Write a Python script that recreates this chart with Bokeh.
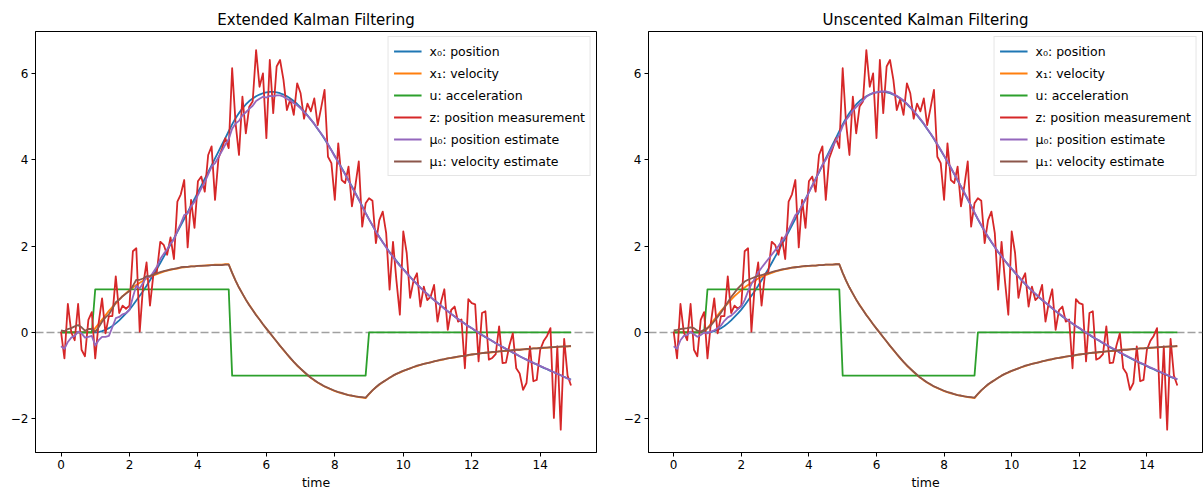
from bokeh.plotting import figure
from bokeh.layouts import row
from bokeh.models import Span, Legend, LegendItem, Range1d
from bokeh.embed import file_html
from bokeh.resources import INLINE

FONT = "DejaVu Sans"

# time axis: 0.0 .. 14.9 in steps of 0.1
time = [round(i * 0.1, 1) for i in range(150)]

# acceleration (control input)
u_acc = [0] * 10 + [1] * 40 + [-1] * 40 + [0] * 60

# true position
x0_pos = [
    0, 0, 0, 0, 0, 0, 0, 0, 0, 0,
    0, 0.01, 0.03, 0.06, 0.10, 0.15, 0.21, 0.28, 0.36, 0.44,
    0.53, 0.63, 0.74, 0.85, 0.96, 1.08, 1.21, 1.34, 1.47, 1.61,
    1.75, 1.89, 2.04, 2.18, 2.33, 2.48, 2.63, 2.78, 2.94, 3.09,
    3.25, 3.40, 3.56, 3.71, 3.87, 4.03, 4.19, 4.35, 4.50, 4.66,
    4.82, 4.96, 5.08, 5.19, 5.28, 5.36, 5.42, 5.47, 5.51, 5.54,
    5.56, 5.57, 5.57, 5.56, 5.54, 5.51, 5.47, 5.42, 5.36, 5.29,
    5.21, 5.12, 5.03, 4.93, 4.83, 4.71, 4.60, 4.48, 4.35, 4.22,
    4.09, 3.95, 3.81, 3.67, 3.52, 3.38, 3.23, 3.08, 2.93, 2.77,
    2.62, 2.48, 2.34, 2.21, 2.09, 1.98, 1.86, 1.76, 1.66, 1.56,
    1.47, 1.38, 1.29, 1.20, 1.12, 1.04, 0.97, 0.89, 0.82, 0.75,
    0.69, 0.62, 0.56, 0.49, 0.43, 0.37, 0.31, 0.26, 0.20, 0.15,
    0.10, 0.04, -0.01, -0.06, -0.11, -0.15, -0.20, -0.25, -0.29, -0.34,
    -0.38, -0.42, -0.47, -0.51, -0.55, -0.59, -0.63, -0.67, -0.71, -0.74,
    -0.78, -0.82, -0.85, -0.89, -0.92, -0.96, -0.99, -1.03, -1.06, -1.09,
]

# true velocity
x1_vel = [
    0, 0, 0, 0, 0, 0, 0, 0, 0, 0,
    0.10, 0.20, 0.30, 0.40, 0.50, 0.59, 0.67, 0.76, 0.84, 0.91,
    0.98, 1.04, 1.10, 1.15, 1.20, 1.25, 1.29, 1.32, 1.35, 1.38,
    1.41, 1.43, 1.45, 1.47, 1.48, 1.50, 1.51, 1.52, 1.53, 1.53,
    1.54, 1.55, 1.55, 1.56, 1.56, 1.57, 1.57, 1.57, 1.58, 1.58,
    1.38, 1.20, 1.04, 0.90, 0.76, 0.64, 0.52, 0.41, 0.30, 0.19,
    0.09, -0.01, -0.11, -0.21, -0.31, -0.41, -0.50, -0.60, -0.68, -0.77,
    -0.84, -0.92, -0.99, -1.05, -1.11, -1.16, -1.21, -1.25, -1.29, -1.32,
    -1.36, -1.38, -1.41, -1.43, -1.45, -1.47, -1.48, -1.50, -1.51, -1.52,
    -1.43, -1.34, -1.27, -1.21, -1.15, -1.10, -1.05, -1.00, -0.96, -0.93,
    -0.89, -0.86, -0.83, -0.80, -0.78, -0.75, -0.73, -0.71, -0.69, -0.67,
    -0.65, -0.64, -0.62, -0.60, -0.59, -0.58, -0.56, -0.55, -0.54, -0.53,
    -0.51, -0.50, -0.49, -0.48, -0.47, -0.47, -0.46, -0.45, -0.44, -0.43,
    -0.43, -0.42, -0.41, -0.40, -0.40, -0.39, -0.39, -0.38, -0.37, -0.37,
    -0.36, -0.36, -0.35, -0.35, -0.34, -0.34, -0.33, -0.33, -0.32, -0.32,
]

# noisy position measurement
z_meas = [
    0.02, -0.60, 0.66, 0.00, -0.18, 0.66, -0.40, -0.55, 0.29, 0.47,
    -0.60, 0.22, 0.79, -0.02, 0.38, 0.38, 1.30, 0.45, 0.62, 0.55,
    0.62, 1.88, 1.95, 0.02, 1.10, 1.62, 0.62, 1.35, 1.40, 2.10,
    2.03, 1.80, 2.20, 1.70, 3.03, 3.20, 3.53, 1.97, 3.07, 2.42,
    3.50, 3.61, 3.26, 4.11, 4.31, 3.07, 4.03, 4.25, 4.50, 4.27,
    6.12, 4.85, 4.11, 5.46, 4.61, 5.23, 5.35, 6.54, 5.69, 6.00,
    4.50, 6.31, 5.08, 6.16, 6.31, 5.85, 5.15, 5.40, 5.04, 5.77,
    5.54, 4.95, 5.30, 5.12, 5.42, 4.80, 5.20, 5.62, 4.07, 3.92,
    3.07, 4.38, 3.53, 3.46, 3.84, 2.92, 3.40, 3.96, 2.45, 2.99,
    3.11, 3.05, 2.07, 2.60, 2.80, 2.30, 0.99, 2.10, 1.20, 0.41,
    2.34, 1.84, 0.80, 1.20, 1.37, 0.60, 1.06, 0.75, 0.83, 1.10,
    0.25, 0.70, 1.00, 0.06, 0.52, 0.60, 0.25, 0.30, -0.83, 0.77,
    0.68, 0.65, -0.67, 0.45, 0.49, -0.63, -0.59, -0.50, 0.14, -0.71,
    -0.70, -0.30, -0.02, -0.83, -0.95, -1.33, -1.17, -0.32, -1.13, -1.10,
    -0.40, -0.20, -0.08, 0.10, -1.98, -0.32, -2.25, -0.15, -1.00, -1.23,
]

# EKF estimates
ekf_mu0 = [
    -0.32, -0.38, -0.22, -0.12, -0.08, 0.02, -0.02, -0.12, -0.10, -0.08,
    -0.30, -0.18, -0.10, -0.10, -0.08, 0.12, 0.33, 0.36, 0.42, 0.45,
    0.52, 0.82, 1.08, 1.02, 1.15, 1.30, 1.28, 1.40, 1.52, 1.70,
    1.82, 1.92, 2.06, 2.15, 2.35, 2.52, 2.72, 2.76, 2.92, 3.02,
    3.18, 3.34, 3.48, 3.66, 3.84, 3.92, 4.06, 4.20, 4.35, 4.48,
    4.72, 4.84, 4.90, 5.03, 5.10, 5.18, 5.25, 5.36, 5.41, 5.46,
    5.44, 5.48, 5.47, 5.49, 5.49, 5.46, 5.41, 5.37, 5.31, 5.26,
    5.19, 5.10, 5.02, 4.93, 4.83, 4.72, 4.61, 4.50, 4.36, 4.22,
    4.07, 3.95, 3.80, 3.66, 3.52, 3.36, 3.22, 3.08, 2.91, 2.76,
    2.62, 2.48, 2.33, 2.21, 2.09, 1.97, 1.85, 1.75, 1.64, 1.54,
    1.46, 1.37, 1.28, 1.20, 1.12, 1.04, 0.96, 0.89, 0.82, 0.75,
    0.68, 0.62, 0.55, 0.49, 0.43, 0.37, 0.31, 0.25, 0.20, 0.14,
    0.10, 0.05, -0.01, -0.06, -0.10, -0.15, -0.20, -0.25, -0.29, -0.33,
    -0.38, -0.42, -0.46, -0.50, -0.55, -0.59, -0.63, -0.67, -0.70, -0.74,
    -0.78, -0.81, -0.85, -0.88, -0.92, -0.96, -0.99, -1.03, -1.07, -1.10,
]
ekf_mu1 = [
    0.05, 0.03, 0.08, 0.10, 0.14, 0.17, 0.12, 0.04, 0.08, 0.08,
    0.02, 0.12, 0.25, 0.35, 0.42, 0.55, 0.70, 0.76, 0.84, 0.90,
    0.96, 1.08, 1.22, 1.22, 1.25, 1.30, 1.31, 1.34, 1.37, 1.40,
    1.42, 1.44, 1.46, 1.47, 1.49, 1.51, 1.52, 1.52, 1.53, 1.53,
    1.54, 1.54, 1.55, 1.55, 1.56, 1.56, 1.56, 1.56, 1.57, 1.57,
    1.38, 1.20, 1.04, 0.90, 0.76, 0.63, 0.52, 0.40, 0.30, 0.19,
    0.09, -0.01, -0.11, -0.21, -0.31, -0.40, -0.50, -0.59, -0.68, -0.76,
    -0.84, -0.91, -0.98, -1.05, -1.10, -1.16, -1.20, -1.25, -1.28, -1.32,
    -1.35, -1.38, -1.40, -1.43, -1.45, -1.46, -1.48, -1.49, -1.50, -1.51,
    -1.42, -1.34, -1.27, -1.20, -1.15, -1.10, -1.05, -1.00, -0.96, -0.92,
    -0.89, -0.86, -0.83, -0.80, -0.77, -0.75, -0.73, -0.71, -0.69, -0.67,
    -0.65, -0.63, -0.62, -0.60, -0.59, -0.57, -0.56, -0.55, -0.54, -0.52,
    -0.51, -0.50, -0.49, -0.48, -0.47, -0.46, -0.45, -0.45, -0.44, -0.43,
    -0.42, -0.42, -0.41, -0.40, -0.40, -0.39, -0.38, -0.38, -0.37, -0.37,
    -0.36, -0.35, -0.35, -0.34, -0.34, -0.33, -0.33, -0.32, -0.32, -0.31,
]

# UKF estimates
ukf_mu0 = [
    -0.32, -0.38, -0.18, -0.08, -0.06, 0.02, -0.04, -0.10, -0.06, 0.00,
    -0.02, 0.02, 0.05, 0.10, 0.16, 0.27, 0.35, 0.39, 0.46, 0.54,
    0.60, 0.75, 0.95, 1.12, 1.25, 1.39, 1.50, 1.60, 1.70, 1.80,
    1.90, 2.00, 2.12, 2.22, 2.38, 2.55, 2.72, 2.80, 2.95, 3.08,
    3.24, 3.40, 3.55, 3.72, 3.88, 4.00, 4.15, 4.30, 4.45, 4.58,
    4.78, 4.92, 5.02, 5.14, 5.22, 5.30, 5.37, 5.46, 5.51, 5.55,
    5.56, 5.58, 5.58, 5.58, 5.56, 5.52, 5.48, 5.43, 5.37, 5.30,
    5.22, 5.13, 5.04, 4.94, 4.84, 4.72, 4.61, 4.49, 4.36, 4.23,
    4.09, 3.96, 3.82, 3.67, 3.53, 3.38, 3.24, 3.09, 2.93, 2.78,
    2.63, 2.49, 2.35, 2.22, 2.10, 1.98, 1.87, 1.77, 1.66, 1.57,
    1.48, 1.39, 1.30, 1.21, 1.13, 1.05, 0.97, 0.90, 0.83, 0.76,
    0.69, 0.63, 0.56, 0.50, 0.44, 0.38, 0.32, 0.26, 0.21, 0.15,
    0.11, 0.05, 0.00, -0.05, -0.10, -0.15, -0.19, -0.24, -0.28, -0.33,
    -0.37, -0.41, -0.46, -0.50, -0.54, -0.58, -0.62, -0.66, -0.70, -0.73,
    -0.77, -0.81, -0.84, -0.88, -0.91, -0.95, -0.98, -1.02, -1.05, -1.08,
]
ukf_mu1 = [
    0.05, 0.06, 0.08, 0.09, 0.10, 0.12, 0.10, 0.04, 0.02, 0.06,
    0.10, 0.16, 0.26, 0.36, 0.46, 0.58, 0.70, 0.82, 0.92, 1.02,
    1.10, 1.18, 1.22, 1.25, 1.28, 1.31, 1.33, 1.35, 1.37, 1.40,
    1.42, 1.44, 1.46, 1.47, 1.49, 1.50, 1.51, 1.52, 1.53, 1.54,
    1.54, 1.55, 1.55, 1.56, 1.56, 1.57, 1.57, 1.57, 1.58, 1.58,
    1.38, 1.20, 1.04, 0.90, 0.76, 0.63, 0.52, 0.40, 0.30, 0.19,
    0.09, -0.01, -0.11, -0.21, -0.31, -0.40, -0.50, -0.59, -0.68, -0.76,
    -0.84, -0.91, -0.98, -1.05, -1.10, -1.16, -1.20, -1.25, -1.28, -1.32,
    -1.35, -1.38, -1.40, -1.43, -1.45, -1.46, -1.48, -1.49, -1.50, -1.51,
    -1.42, -1.34, -1.27, -1.20, -1.15, -1.10, -1.05, -1.00, -0.96, -0.92,
    -0.89, -0.86, -0.83, -0.80, -0.77, -0.75, -0.73, -0.71, -0.69, -0.67,
    -0.65, -0.63, -0.62, -0.60, -0.59, -0.57, -0.56, -0.55, -0.54, -0.52,
    -0.51, -0.50, -0.49, -0.48, -0.47, -0.46, -0.45, -0.45, -0.44, -0.43,
    -0.42, -0.42, -0.41, -0.40, -0.40, -0.39, -0.38, -0.38, -0.37, -0.37,
    -0.36, -0.35, -0.35, -0.34, -0.34, -0.33, -0.33, -0.32, -0.32, -0.31,
]

x_ticks = [0, 2, 4, 6, 8, 10, 12, 14]
y_ticks = [-2, 0, 2, 4, 6]
labels = ["x\u2080: position", "x\u2081: velocity", "u: acceleration",
          "z: position measurement", "\u03bc\u2080: position estimate",
          "\u03bc\u2081: velocity estimate"]
colors = ["#1f77b4", "#ff7f0e", "#2ca02c", "#d62728", "#9467bd", "#8c564b"]


def make(title, mu0, mu1, bl, fw, br):
    p = figure(frame_width=fw, frame_height=421,
               x_range=Range1d(-0.745, 15.645), y_range=Range1d(-2.78, 6.97),
               output_backend="svg", toolbar_location=None,
               min_border_left=bl, min_border_right=br,
               min_border_top=31, min_border_bottom=39)
    p.background_fill_color = "white"
    p.border_fill_color = "white"
    p.outline_line_color = "black"
    p.outline_line_width = 1
    p.grid.visible = False

    p.title.text = title
    p.title.align = "center"
    p.title.text_font = FONT
    p.title.text_font_size = "15px"
    p.title.text_font_style = "normal"
    p.title.text_color = "black"
    p.title.standoff = 6

    for ax in (p.xaxis, p.yaxis):
        ax.axis_line_color = "black"
        ax.major_tick_in = 0
        ax.major_tick_out = 4
        ax.major_tick_line_color = "black"
        ax.minor_tick_line_color = None
        ax.major_label_text_font = FONT
        ax.major_label_text_font_size = "12px"
        ax.major_label_text_color = "black"
        ax.major_label_standoff = 3
    p.xaxis.ticker = x_ticks
    p.yaxis.ticker = y_ticks
    p.yaxis.major_label_overrides = {-2: "\u22122"}
    p.xaxis.axis_label = "time"
    p.xaxis.axis_label_text_font = FONT
    p.xaxis.axis_label_text_font_size = "12.5px"
    p.xaxis.axis_label_text_font_style = "normal"
    p.xaxis.axis_label_text_color = "black"
    p.xaxis.axis_label_standoff = 3

    p.add_layout(Span(location=0, dimension="width", line_color="gray",
                      line_dash="8 3", line_width=1.5, line_alpha=0.75,
                      level="underlay"))

    series = [x0_pos, x1_vel, u_acc, z_meas, mu0, mu1]
    items = []
    for lab, col, ys in zip(labels, colors, series):
        r = p.line(time, ys, line_color=col, line_width=1.8, line_join="round")
        items.append(LegendItem(label=lab, renderers=[r]))

    lg = Legend(items=items, location="top_right", margin=5, padding=5,
                spacing=4, glyph_width=28, glyph_height=18, label_height=18,
                label_standoff=8, label_text_font=FONT,
                label_text_font_size="12.5px", label_text_color="black",
                border_line_color="#cccccc", border_line_width=1,
                background_fill_color="white", background_fill_alpha=0.8)
    p.add_layout(lg, "center")
    return p


p1 = make("Extended Kalman Filtering", ekf_mu0, ekf_mu1, 35, 561, 16)
p2 = make("Unscented Kalman Filtering", ukf_mu0, ukf_mu1, 36, 554, 1)
layout = row(p1, p2, spacing=0)

open("out.html", "w").write(file_html(layout, INLINE))
